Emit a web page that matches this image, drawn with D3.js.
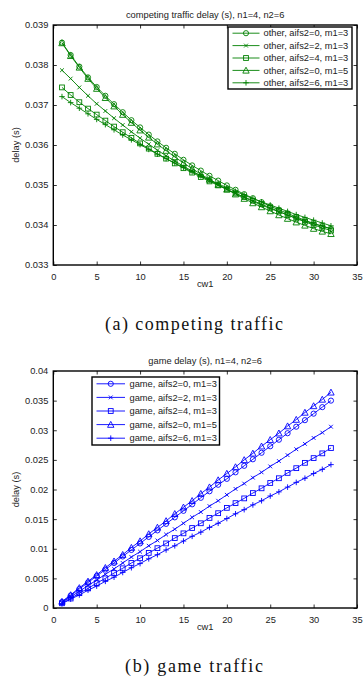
<!DOCTYPE html>
<html>
<head>
<meta charset="utf-8">
<script src="https://cdn.jsdelivr.net/npm/d3@7"></script>
<style>
  html, body { margin: 0; padding: 0; background: #fff; }
  svg { display: block; }
</style>
</head>
<body>
<svg id="chart" width="363" height="680"></svg>
<script>
// ---------- DATA ----------
const cw1 = d3.range(1, 33);

const otherTitle = "competing traffic delay (s), n1=4, n2=6";
const gameTitle = "game delay (s), n1=4, n2=6";
const xTicks = [0, 5, 10, 15, 20, 25, 30, 35];
const otherYTicks = [0.033, 0.034, 0.035, 0.036, 0.037, 0.038, 0.039];
const gameYTicks = [0, 0.005, 0.01, 0.015, 0.02, 0.025, 0.03, 0.035, 0.04];

const otherLabels = ["other, aifs2=0, m1=3", "other, aifs2=2, m1=3", "other, aifs2=4, m1=3", "other, aifs2=0, m1=5", "other, aifs2=6, m1=3"];
const gameLabels = ["game, aifs2=0, m1=3", "game, aifs2=2, m1=3", "game, aifs2=4, m1=3", "game, aifs2=0, m1=5", "game, aifs2=6, m1=3"];
const markers = ["circle", "x", "square", "triangle", "plus"];

// competing traffic delay (s)
const other_a0m3 = [0.03856,0.03825,0.03796,0.03769,0.03745,0.03723,0.03702,0.03682,0.03662,0.03644,0.03626,0.03609,0.03593,0.03578,0.03563,0.03549,0.03536,0.03523,0.03511,0.03499,0.03488,0.03477,0.03467,0.03457,0.03447,0.03438,0.03429,0.03420,0.03412,0.03404,0.03397,0.03390];
const other_a2m3 = [0.03787,0.03766,0.03744,0.03723,0.03703,0.03685,0.03667,0.03650,0.03633,0.03617,0.03602,0.03587,0.03573,0.03560,0.03547,0.03535,0.03523,0.03511,0.03500,0.03489,0.03479,0.03469,0.03459,0.03450,0.03441,0.03433,0.03425,0.03417,0.03410,0.03403,0.03397,0.03391];
const other_a4m3 = [0.03744,0.03725,0.03707,0.03691,0.03676,0.03661,0.03646,0.03632,0.03618,0.03604,0.03591,0.03578,0.03566,0.03554,0.03542,0.03531,0.03520,0.03509,0.03499,0.03489,0.03479,0.03470,0.03461,0.03452,0.03443,0.03434,0.03425,0.03416,0.03408,0.03400,0.03393,0.03386];
const other_a0m5 = [0.03855,0.03823,0.03794,0.03766,0.03741,0.03718,0.03697,0.03676,0.03656,0.03637,0.03619,0.03602,0.03586,0.03570,0.03555,0.03541,0.03527,0.03514,0.03501,0.03489,0.03477,0.03466,0.03455,0.03445,0.03435,0.03425,0.03416,0.03407,0.03399,0.03391,0.03384,0.03378];
const other_a6m3 = [0.03721,0.03706,0.03692,0.03678,0.03664,0.03651,0.03638,0.03625,0.03613,0.03601,0.03589,0.03577,0.03566,0.03555,0.03544,0.03533,0.03523,0.03513,0.03503,0.03493,0.03484,0.03475,0.03466,0.03458,0.03450,0.03442,0.03434,0.03426,0.03419,0.03412,0.03405,0.03398];

// game delay (s)
const game_a0m3 = [0.0010,0.0021,0.0032,0.0043,0.0054,0.0065,0.0076,0.0087,0.0098,0.0109,0.0120,0.0131,0.0142,0.0153,0.0164,0.0175,0.0186,0.0197,0.0208,0.0218,0.0229,0.0240,0.0251,0.0262,0.0273,0.0284,0.0295,0.0306,0.0317,0.0328,0.0339,0.0350];
const game_a2m3 = [0.0009,0.0019,0.0028,0.0038,0.0047,0.0057,0.0066,0.0076,0.0086,0.0095,0.0105,0.0114,0.0124,0.0133,0.0143,0.0153,0.0162,0.0172,0.0181,0.0191,0.0201,0.0210,0.0220,0.0229,0.0239,0.0248,0.0258,0.0268,0.0277,0.0287,0.0296,0.0306];
const game_a4m3 = [0.0008,0.0016,0.0025,0.0033,0.0042,0.0050,0.0059,0.0067,0.0076,0.0084,0.0093,0.0101,0.0109,0.0118,0.0126,0.0135,0.0143,0.0152,0.0160,0.0169,0.0177,0.0185,0.0194,0.0202,0.0211,0.0219,0.0228,0.0236,0.0245,0.0253,0.0261,0.0270];
const game_a0m5 = [0.0011,0.0022,0.0034,0.0045,0.0056,0.0068,0.0079,0.0090,0.0102,0.0113,0.0125,0.0136,0.0147,0.0159,0.0170,0.0181,0.0193,0.0204,0.0216,0.0227,0.0238,0.0250,0.0261,0.0273,0.0284,0.0295,0.0307,0.0318,0.0330,0.0341,0.0352,0.0364];
const game_a6m3 = [0.0007,0.0015,0.0022,0.0030,0.0037,0.0045,0.0052,0.0060,0.0068,0.0075,0.0083,0.0090,0.0098,0.0105,0.0113,0.0121,0.0128,0.0136,0.0143,0.0151,0.0159,0.0166,0.0174,0.0181,0.0189,0.0196,0.0204,0.0212,0.0219,0.0227,0.0234,0.0242];

const otherSeries = [other_a0m3, other_a2m3, other_a4m3, other_a0m5, other_a6m3];
const gameSeries = [game_a0m3, game_a2m3, game_a4m3, game_a0m5, game_a6m3];

// ---------- DRAW ----------
const svg = d3.select("#chart");
const FS = 9.3;
const SANS = "'Liberation Sans', Arial, Helvetica, sans-serif";
const SERIF = "'Liberation Serif', 'Times New Roman', Times, serif";

function drawMarker(g, type, x, y, color) {
  const s = 2.6;
  if (type === "circle") {
    g.append("circle").attr("cx", x).attr("cy", y).attr("r", s)
      .attr("fill", "none").attr("stroke", color).attr("stroke-width", 0.9);
  } else if (type === "square") {
    g.append("rect").attr("x", x - s + 0.2).attr("y", y - s + 0.2).attr("width", 2 * s - 0.4).attr("height", 2 * s - 0.4)
      .attr("fill", "none").attr("stroke", color).attr("stroke-width", 0.9);
  } else if (type === "triangle") {
    const h = 3.2;
    g.append("path").attr("d", `M${x},${y - h}L${x + h},${y + h * 0.85}L${x - h},${y + h * 0.85}Z`)
      .attr("fill", "none").attr("stroke", color).attr("stroke-width", 0.9);
  } else if (type === "x") {
    const d = 1.9;
    g.append("path").attr("d", `M${x - d},${y - d}L${x + d},${y + d}M${x - d},${y + d}L${x + d},${y - d}`)
      .attr("stroke", color).attr("stroke-width", 0.9);
  } else if (type === "plus") {
    const d = 2.8;
    g.append("path").attr("d", `M${x - d},${y}L${x + d},${y}M${x},${y - d}L${x},${y + d}`)
      .attr("stroke", color).attr("stroke-width", 0.9);
  }
}

function panel(cfg) {
  const { left, top, right, bottom, yDomain, yTicks, series, labels, color, title, legend, yFmt } = cfg;
  const x = d3.scaleLinear().domain([0, 35]).range([left, right]);
  const y = d3.scaleLinear().domain(yDomain).range([bottom, top]);
  const g = svg.append("g");

  const tickLen = 3.5;
  const axB = g.append("g").attr("transform", `translate(0,${bottom})`)
    .call(d3.axisBottom(x).tickValues(xTicks).tickSizeInner(-tickLen).tickSizeOuter(0).tickPadding(6).tickFormat(d3.format("d")));
  const axT = g.append("g").attr("transform", `translate(0,${top})`)
    .call(d3.axisTop(x).tickValues(xTicks).tickSizeInner(-tickLen).tickSizeOuter(0).tickFormat(""));
  const axL = g.append("g").attr("transform", `translate(${left},0)`)
    .call(d3.axisLeft(y).tickValues(yTicks).tickSizeInner(-tickLen).tickSizeOuter(0).tickPadding(5).tickFormat(yFmt));
  const axR = g.append("g").attr("transform", `translate(${right},0)`)
    .call(d3.axisRight(y).tickValues(yTicks).tickSizeInner(-tickLen).tickSizeOuter(0).tickFormat(""));
  [axB, axT, axL, axR].forEach(a => {
    a.select(".domain").remove();
    a.selectAll(".tick line").attr("stroke", "#000").attr("stroke-width", 0.8);
    a.selectAll("text").style("font-size", FS + "px").attr("fill", "#222").style("font-family", SANS);
  });
  axB.selectAll("text").attr("dy", "0.95em");

  const line = d3.line().x((d, i) => x(cw1[i])).y(d => y(d));
  series.forEach((s, k) => {
    g.append("path").datum(s).attr("d", line).attr("fill", "none")
      .attr("stroke", color).attr("stroke-width", 0.9);
    const mg = g.append("g");
    s.forEach((v, i) => drawMarker(mg, markers[k], x(cw1[i]), y(v), color));
  });

  g.append("rect").attr("x", left).attr("y", top).attr("width", right - left).attr("height", bottom - top)
    .attr("fill", "none").attr("stroke", "#000").attr("stroke-width", 1.4);

  const txt = (sel) => sel.style("font-family", SANS).style("font-size", FS + "px").attr("fill", "#222");
  g.append("text").attr("x", (left + right) / 2).attr("y", top - 7).attr("text-anchor", "middle").call(txt).text(title);
  g.append("text").attr("x", (left + right) / 2).attr("y", bottom + 22).attr("text-anchor", "middle").call(txt).text("cw1");
  g.append("text").attr("transform", `translate(${left - 34},${(top + bottom) / 2}) rotate(-90)`)
    .attr("text-anchor", "middle").call(txt).text("delay (s)");

  const L = legend;
  const lg = g.append("g");
  lg.append("rect").attr("x", L.x).attr("y", L.y).attr("width", L.w).attr("height", L.h)
    .attr("fill", "#fff").attr("stroke", "#000").attr("stroke-width", 1.4);
  const rowH = L.h / labels.length;
  labels.forEach((lab, k) => {
    const cy = L.y + rowH * (k + 0.5);
    lg.append("line").attr("x1", L.x + L.l1).attr("x2", L.x + L.l2).attr("y1", cy).attr("y2", cy)
      .attr("stroke", color).attr("stroke-width", 0.9);
    drawMarker(lg, markers[k], L.x + (L.l1 + L.l2) / 2, cy, color);
    lg.append("text").attr("x", L.x + L.tx).attr("y", cy).attr("dy", "0.35em").call(txt).text(lab);
  });
}

panel({
  left: 53.3, top: 25, right: 357, bottom: 265,
  yDomain: [0.033, 0.039], yTicks: otherYTicks, series: otherSeries, labels: otherLabels,
  color: "#008000", title: otherTitle, yFmt: d3.format(".3f"),
  legend: { x: 228, y: 27, w: 124, h: 62, l1: 4.5, l2: 31.5, tx: 35.5 }
});
panel({
  left: 53.3, top: 371, right: 357, bottom: 608,
  yDomain: [0, 0.04], yTicks: gameYTicks, series: gameSeries, labels: gameLabels,
  color: "#0000ff", title: gameTitle, yFmt: d => d === 0 ? "0" : String(+d.toFixed(3)),
  legend: { x: 92, y: 377, w: 127.5, h: 68, l1: 4.5, l2: 33, tx: 37.5 }
});

// captions
svg.append("text").attr("x", 194).attr("y", 330).attr("text-anchor", "middle")
  .style("font-family", SERIF).style("font-size", "18px")
  .attr("textLength", 178).attr("lengthAdjust", "spacing").attr("fill", "#111")
  .text("(a) competing traffic");
svg.append("text").attr("x", 194).attr("y", 672).attr("text-anchor", "middle")
  .style("font-family", SERIF).style("font-size", "18px")
  .attr("textLength", 138).attr("lengthAdjust", "spacing").attr("fill", "#111")
  .text("(b) game traffic");
</script>
</body>
</html>
